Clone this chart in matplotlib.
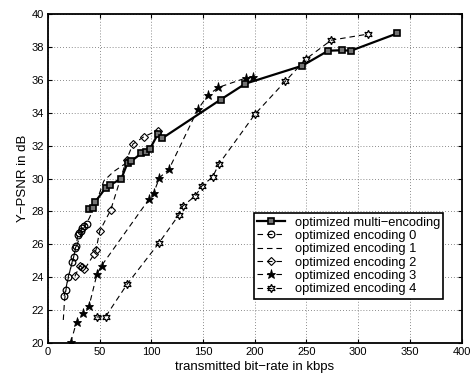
import matplotlib
matplotlib.use("Agg")
import matplotlib.pyplot as plt

# ---- data ----
multi_x = [40, 44, 45.3, 56, 60, 71, 77, 80.6, 90.3, 94.5, 98.3, 106.3, 110.5, 167, 191, 246, 271, 284, 293, 338]
multi_y = [28.15, 28.2, 28.55, 29.45, 29.6, 30.0, 30.96, 31.06, 31.53, 31.63, 31.77, 32.7, 32.45, 34.8, 35.77, 36.86, 37.77, 37.8, 37.77, 38.83]

enc0_x = [15.5, 17, 19.5, 23.5, 24.8, 26.6, 27.5, 28.6, 30, 31.5, 33.3, 35.3, 37.3]
enc0_y = [22.85, 23.2, 24.0, 24.9, 25.22, 25.8, 25.9, 26.55, 26.7, 26.83, 27.0, 27.1, 27.23]

enc1_x = [14.8, 16, 18, 22, 27, 33, 40, 47, 54, 63, 77, 81, 90, 98]
enc1_y = [21.4, 22.6, 23.5, 24.6, 25.8, 26.8, 27.6, 28.6, 29.85, 30.4, 31.0, 31.1, 31.5, 31.8]

enc2_x = [26, 30.8, 32.5, 35.2, 44.8, 46.5, 50, 60.6, 76, 82.2, 93, 106]
enc2_y = [24.05, 24.7, 24.62, 24.47, 25.42, 25.67, 26.8, 28.08, 31.15, 32.1, 32.55, 32.92]

enc3_x = [22, 27.6, 34, 39.8, 47.5, 51.8, 97.8, 102.2, 107.8, 117, 144.9, 154.5, 164.8, 191.8, 198.7]
enc3_y = [20.03, 21.28, 21.8, 22.27, 24.22, 24.7, 28.75, 29.12, 30.05, 30.56, 34.2, 35.05, 35.54, 36.12, 36.19]

enc4_x = [47, 55.7, 76.8, 107.3, 126.6, 130.4, 142.5, 148.9, 159.3, 165.3, 200.3, 229.4, 249.6, 273.9, 309.2]
enc4_y = [21.58, 21.6, 23.6, 26.08, 27.79, 28.33, 28.94, 29.55, 30.1, 30.88, 33.92, 35.9, 37.27, 38.41, 38.78]

labels = ["optimized multi\u2212encoding", "optimized encoding 0", "optimized encoding 1",
          "optimized encoding 2", "optimized encoding 3", "optimized encoding 4"]

xticks = [0, 50, 100, 150, 200, 250, 300, 350, 400]
yticks = [20, 22, 24, 26, 28, 30, 32, 34, 36, 38, 40]

plt.rcParams['font.family'] = ['Liberation Sans', 'DejaVu Sans']
plt.rcParams['axes.unicode_minus'] = True

fig = plt.figure(figsize=(4.71, 3.80), dpi=100)
ax = fig.add_axes([0.1019, 0.0974, 0.878, 0.8656])

dash = (0, (5, 3.5))
ax.plot(multi_x, multi_y, color='k', lw=1.6, ls='-', marker='s', ms=4.6,
        mfc='0.45', mec='k', mew=1.2, label=labels[0], zorder=5)
ax.plot(enc0_x, enc0_y, color='k', lw=0.8, ls=dash, marker='o', ms=4.8,
        mfc='none', mec='k', mew=0.9, label=labels[1], zorder=4)
ax.plot(enc1_x, enc1_y, color='k', lw=0.8, ls=dash, marker='none', label=labels[2], zorder=3)
ax.plot(enc2_x, enc2_y, color='k', lw=0.8, ls=dash, marker='D', ms=4.2,
        mfc='none', mec='k', mew=0.8, label=labels[3], zorder=4)
ax.plot(enc3_x, enc3_y, color='k', lw=0.8, ls=dash, marker='*', ms=6.5,
        mfc='k', mec='k', mew=0.6, label=labels[4], zorder=4)
ax.plot(enc4_x, enc4_y, color='k', lw=0.8, ls=dash, marker=(6, 1, 0), ms=6,
        mfc='none', mec='k', mew=0.9, label=labels[5], zorder=4)

ax.set_xlim(0, 400)
ax.set_ylim(20, 40)
ax.set_xticks(xticks)
ax.set_yticks(yticks)
ax.tick_params(direction='in', length=3, width=0.8, labelsize=8, top=True, right=True, pad=3)
ax.grid(True, color='0.4', ls=(0, (1, 2.5)), lw=0.6)
for s in ax.spines.values():
    s.set_linewidth(1.3)

ax.set_xlabel("transmitted bit\u2212rate in kbps", fontsize=9.5, labelpad=3)
ax.set_ylabel("Y\u2212PSNR in dB", fontsize=9.5, labelpad=2)

leg = ax.legend(loc='lower right', bbox_to_anchor=(0.956, 0.135), fontsize=9.3,
                frameon=True, fancybox=False, edgecolor='k', framealpha=1,
                handlelength=2.1, handletextpad=0.8, borderpad=0.25, labelspacing=0.1,
                borderaxespad=0.0)
leg.get_frame().set_linewidth(1.2)

fig.savefig("out.png", dpi=100)
